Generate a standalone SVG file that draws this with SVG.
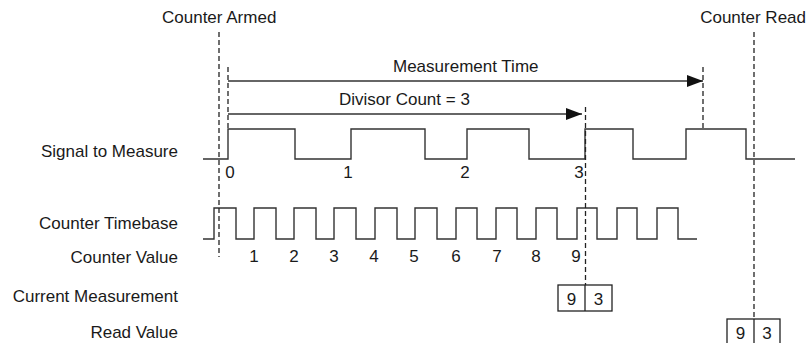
<svg xmlns="http://www.w3.org/2000/svg" width="807" height="343" viewBox="0 0 807 343">
<style>
text{font-family:"Liberation Sans",Arial,sans-serif;font-size:17px;fill:#1a1a1a}
.r{text-anchor:end}
.m{text-anchor:middle}
.w{fill:none;stroke:#333;stroke-width:1.4}
.d{fill:none;stroke:#222;stroke-width:1.3;stroke-dasharray:5,3}
.a{fill:none;stroke:#333;stroke-width:1.4}
.b{fill:#fff;stroke:#222;stroke-width:1.3}
</style>
<defs>
<marker id="ah" viewBox="0 0 16 12" refX="16" refY="6" markerWidth="16" markerHeight="12" markerUnits="userSpaceOnUse" orient="auto">
<path d="M0,0 L16,6 L0,12 Z" fill="#111"/>
</marker>
</defs>
<g id="labels">
<text x="162" y="23">Counter Armed</text>
<text x="806" y="23" class="r">Counter Read</text>
<text x="178" y="157" class="r">Signal to Measure</text>
<text x="178" y="229" class="r">Counter Timebase</text>
<text x="178" y="263" class="r">Counter Value</text>
<text x="178" y="302" class="r">Current Measurement</text>
<text x="178" y="338" class="r">Read Value</text>
</g>
<g id="signal">
<path class="w" d="M203,159 H228 V129 H295 V159 H351 V129 H425 V159 H467 V129 H529 V159 H585 V129 H633 V159 H686 V129 H746 V159 H795"/>
<text x="230" y="178" class="m">0</text>
<text x="348" y="178" class="m">1</text>
<text x="465" y="178" class="m">2</text>
<text x="579" y="178" class="m">3</text>
</g>
<g id="timebase">
<path class="w" d="M203,239 H214 V208 H236 V239 H254 V208 H276 V239 H294 V208 H316 V239 H334 V208 H356 V239 H375 V208 H397 V239 H415 V208 H437 V239 H456 V208 H477 V239 H496 V208 H517 V239 H536 V208 H557 V239 H577 V208 H597 V239 H617 V208 H637 V239 H657 V208 H678 V239 H697"/>
<text x="254" y="262" class="m">1</text>
<text x="294" y="262" class="m">2</text>
<text x="334" y="262" class="m">3</text>
<text x="374" y="262" class="m">4</text>
<text x="414" y="262" class="m">5</text>
<text x="456" y="262" class="m">6</text>
<text x="497" y="262" class="m">7</text>
<text x="536" y="262" class="m">8</text>
<text x="576" y="262" class="m">9</text>
</g>
<g id="connectors">
<line class="d" x1="219" y1="32" x2="219" y2="257"/>
<line class="d" x1="228" y1="67" x2="228" y2="128"/>
<line class="d" x1="703" y1="67" x2="703" y2="129"/>
<line class="d" x1="585.5" y1="107" x2="585.5" y2="285"/>
<line class="d" x1="754" y1="32" x2="754" y2="319"/>
<line class="a" x1="228" y1="81" x2="703" y2="81" marker-end="url(#ah)"/>
<line class="a" x1="228" y1="114" x2="582" y2="114" marker-end="url(#ah)"/>
<text x="393" y="72">Measurement Time</text>
<text x="339" y="105">Divisor Count = 3</text>
</g>
<g id="current">
<rect class="b" x="558" y="285" width="54" height="26"/>
<line class="b" x1="585" y1="285" x2="585" y2="311"/>
<text x="571.5" y="305" class="m">9</text>
<text x="598.5" y="305" class="m">3</text>
</g>
<g id="read">
<rect class="b" x="727" y="319" width="53" height="26"/>
<line class="b" x1="754" y1="319" x2="754" y2="345"/>
<text x="740.5" y="339" class="m">9</text>
<text x="767" y="339" class="m">3</text>
</g>
</svg>
